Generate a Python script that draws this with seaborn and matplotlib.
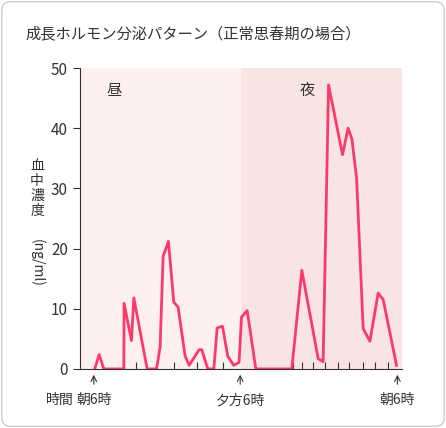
import matplotlib
matplotlib.use('Agg')
import matplotlib.pyplot as plt
import seaborn as sns
import pandas as pd
from matplotlib.patches import FancyBboxPatch

# hours since midnight (30 = next morning 6:00), concentration ng/ml
hours = [6.08, 6.42, 6.79, 8.37, 8.39, 8.97, 9.16, 10.21, 10.95, 11.23, 11.47, 11.89,
         12.31, 12.65, 13.20, 13.52, 14.31, 14.52, 14.99, 15.47, 15.73, 16.15, 16.57,
         17.04, 17.46, 17.65, 18.10, 18.78, 21.62, 22.41, 23.70, 24.09, 24.52, 25.62,
         26.06, 26.36, 26.73, 27.25, 27.78, 28.43, 28.83, 29.88]
conc = [0, 2.4, 0, 0, 10.9, 4.7, 11.8, 0, 0, 3.6, 18.7, 21.2, 11.1, 10.3, 2.2, 0.6,
        3.2, 3.2, 0, 0, 6.8, 7.1, 2.1, 0.6, 1.1, 8.6, 9.7, 0, 0, 16.4, 1.7, 1.2, 47.2,
        35.6, 40, 38.2, 31.7, 6.7, 4.6, 12.6, 11.5, 0.6]
minor_ticks = [9.31, 12.31, 14.15, 16.2, 21.73, 22.39, 23.3, 24.2, 25.28, 26.14, 27.25, 28.17, 29.22]
arrow_hours = [6.0, 17.55, 29.95]
arrow_labels = ["朝6時", "夕方6時", "朝6時"]

plt.rcParams['font.family'] = ['Noto Sans CJK JP', 'DejaVu Sans']
df = pd.DataFrame({"hour": hours, "conc": conc})

fig = plt.figure(figsize=(4.46, 4.28), dpi=100)
frame = FancyBboxPatch((0.004, 0.004), 0.992, 0.992, boxstyle="round,pad=0,rounding_size=0.02",
                       transform=fig.transFigure, fc='white', ec='#cccccc', lw=1, zorder=-10)
fig.patches.append(frame)
ax = fig.add_axes([0.179, 0.138, 0.722, 0.703])
x0, x1 = 4.9, 30.3
ax.axvspan(x0, 17.6, color='#fdf0ef', lw=0)
ax.axvspan(17.6, x1, color='#f8e4e2', lw=0)
sns.lineplot(data=df, x="hour", y="conc", ax=ax, color='#fb3a6c', lw=2)
ax.set_xlim(x0, x1)
ax.set_ylim(0, 50)
ax.set_yticks([0, 10, 20, 30, 40, 50])
ax.set_xticks(minor_ticks)
ax.set_xticklabels([])
ax.tick_params(axis='x', direction='in', length=5, color='#333333')
ax.tick_params(axis='y', length=5, color='#333333', labelsize=11, labelcolor='#333333')
ax.set_xlabel("")
ax.set_ylabel("")
ax.patch.set_alpha(0)
for s in ['top', 'right']:
    ax.spines[s].set_visible(False)
for s in ['left', 'bottom']:
    ax.spines[s].set_color('#333333')
ax.text(7.0, 45.5, "昼", fontsize=11, color='#333333')
ax.text(22.2, 45.5, "夜", fontsize=11, color='#333333')

for h, lab in zip(arrow_hours, arrow_labels):
    ax.annotate("", xy=(h, -0.5), xytext=(h, -3.0), xycoords='data',
                arrowprops=dict(arrowstyle='->', color='#333333', lw=0.8), annotation_clip=False)
    ax.text(h, -5.2, lab, ha='center', va='center', fontsize=10, color='#333333', clip_on=False)
ax.text(3.3, -5.2, "時間", ha='center', va='center', fontsize=10, color='#333333', clip_on=False)

fig.text(0.056, 0.922, "成長ホルモン分泌パターン（正常思春期の場合）", fontsize=11, color='#333333', va='center')
fig.text(0.083, 0.56, "血\n中\n濃\n度", fontsize=10, color='#333333', ha='center', va='center', linespacing=1.1)
fig.text(0.083, 0.385, "(ng/ml)", fontsize=10, color='#333333', ha='center', va='center', rotation=270)

fig.savefig("out.png", dpi=100)
